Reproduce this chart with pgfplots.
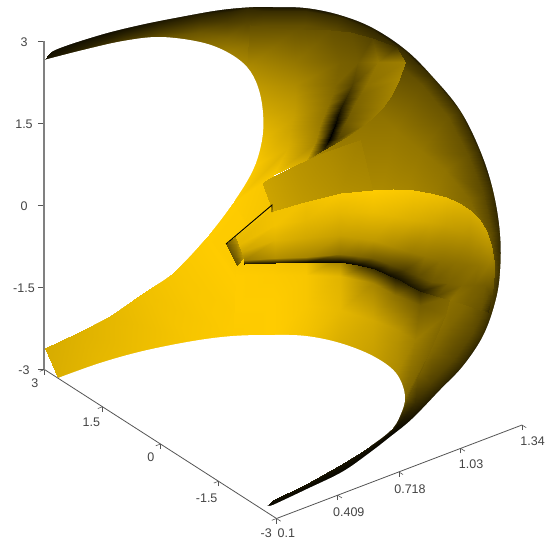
\documentclass[border=0pt]{standalone}
\usepackage{fontspec}
\setmainfont{Liberation Sans}
\usepackage{pgfplots}
\pgfplotsset{compat=1.18}
\definecolor{axisgray}{HTML}{555555}
\definecolor{labelgray}{HTML}{444444}
\pgfplotsset{
  sheet/.style={surf,shader=interp,mesh/cols=#1,point meta=explicit},
  mask/.style={draw=none,fill=white,smooth,tension=0.6,forget plot},
}
\begin{document}
\begin{tikzpicture}[font=\fontsize{12.5}{14}\selectfont]
\path[use as bounding box] (0,0) rectangle (546pt,546pt);

% surface, in picture coordinates
\begin{axis}[
  at={(0pt,0pt)}, anchor=south west,
  width=546pt, height=546pt, scale only axis,
  view={0}{90}, hide axis,
  xmin=0, xmax=546, ymin=0, ymax=546, zmin=-1, zmax=1,
  y dir=reverse,
  colormap={gold}{rgb255(0cm)=(0,0,0); rgb255(1cm)=(255,204,0)},
  point meta min=0, point meta max=1,
]
% back sheet, outer rim to inner side
\addplot3[sheet=5] coordinates {
 (44,60,0)[.08] (44,60,0)[.09] (44,60,0)[.1] (44,60,0)[.1] (44,60,0)[.1]
 (55,47,0)[.04] (55,48,0)[.06] (55,50,0)[.08] (55,54,0)[.1] (55,58,0)[.14]
 (83,37,0)[.03] (83,39,0)[.06] (83,42,0)[.1] (83,47,0)[.15] (83,50,0)[.2]
 (123,26,0)[.03] (123,29,0)[.09] (123,33,0)[.15] (123,37,0)[.22] (123,41,0)[.3]
 (160,18,0)[.03] (160,21,0)[.12] (160,26,0)[.2] (160,32,0)[.3] (160,37,0)[.4]
 (200,11,0)[.03] (200,14,0)[.15] (200,21,0)[.25] (200,32,0)[.42] (200,42,0)[.52]
 (227,7,0)[.03] (227,12,0)[.18] (227,22,0)[.3] (227,38,0)[.5] (227,52,0)[.62]
 (247,4,0)[.03] (247,9,0)[.2] (247,22,0)[.33] (247,45,0)[.55] (247,67,0)[.68]
 (263,4,0)[.03] (263,11,0)[.22] (263,25,0)[.38] (263,60,0)[.62] (263,113,0)[.8]
 (306,5,0)[.03] (306,11,0)[.22] (305,25,0)[.38] (300,70,0)[.55] (290,150,0)[.72]
 (341,12,0)[.02] (339,17,0)[.22] (335,30,0)[.36] (325,70,0)[.5] (310,170,0)[.68]
 (375,25,0)[.02] (372,30,0)[.2] (365,42,0)[.32] (350,90,0)[.5] (330,190,0)[.68]
 (408,47,0)[0] (404,51,0)[.22] (395,62,0)[.36] (375,110,0)[.55] (360,195,0)[.68]
 (436,75,0)[0] (432,78,0)[.24] (422,85,0)[.4] (395,130,0)[.58] (380,195,0)[.68]
 (463,108,0)[0] (459,111,0)[.25] (448,117,0)[.42] (420,150,0)[.58] (405,195,0)[.66]
 (483,149,0)[0] (478,151,0)[.24] (468,155,0)[.4] (445,170,0)[.56] (430,200,0)[.62]
 (496,189,0)[0] (492,190,0)[.22] (483,193,0)[.36] (470,200,0)[.5] (450,210,0)[.6]
 (503,233,0)[.02] (499,233,0)[.22] (492,234,0)[.36] (484,235,0)[.5] (470,240,0)[.55]
 (503,273,0)[.02] (500,273,0)[.22] (494,272,0)[.36] (490,272,0)[.48] (470,272,0)[.55]
 (498,304,0)[0] (495,303,0)[.22] (487,302,0)[.36] (470,298,0)[.5] (450,295,0)[.55]
 (486,337,0)[0] (482,335,0)[.22] (473,332,0)[.36] (450,325,0)[.5] (425,320,0)[.62]
 (466,368,0)[0] (462,365,0)[.2] (453,360,0)[.34] (432,350,0)[.5] (410,340,0)[.62]
 (442,392,0)[0] (438,389,0)[.19] (430,383,0)[.32] (418,372,0)[.48] (405,362,0)[.6]
 (425,409,0)[0] (422,407,0)[.13] (415,403,0)[.22] (408,398,0)[.38] (405,394,0)[.48]
 (412,422,0)[0] (410,420,0)[.08] (406,415,0)[.14] (403,410,0)[.25] (402,408,0)[.35]
 (399,433,0)[.02] (397,431,0)[.04] (395,429,0)[.05] (394,428,0)[.1] (393,428,0)[.18]
 (370,456,0)[.03] (368,454,0)[.04] (367,452,0)[.05] (366,450,0)[.08] (366,449,0)[.1]
 (344,474,0)[.03] (342,472,0)[.04] (341,469,0)[.05] (340,466,0)[.08] (340,465,0)[.1]
 (308,491,0)[.03] (307,489,0)[.04] (306,487,0)[.05] (306,485,0)[.08] (306,484,0)[.1]
 (274,507,0)[.03] (274,505,0)[.04] (273,503,0)[.05] (273,501,0)[.06] (273,500,0)[.08]
 (263,511,0)[.03] (263,510,0)[.03] (263,509,0)[.03] (263,509,0)[.03] (263,509,0)[.03]
};
% left arm and gold middle
\addplot3[sheet=2] coordinates {
 (45,348,0)[.84] (58,378,0)[.86]
 (77,333,0)[.87] (100,363,0)[.9]
 (110,316,0)[.9] (143,351,0)[.93]
 (143,293,0)[.94] (193,341,0)[.97]
 (173,273,0)[.97] (233,336,0)[.99]
 (207,237,0)[1] (273,335,0)[1]
 (233,203,0)[1] (306,336,0)[.95]
 (273,175,0)[.97] (340,343,0)[.85]
};
% bright part under the lower fold
\addplot3[sheet=4] coordinates {
 (237,260,0)[.98] (236,275,0)[1] (235,305,0)[1] (233,336,0)[.99]
 (273,258,0)[.96] (273,275,0)[.99] (273,305,0)[1] (273,335,0)[1]
 (306,257,0)[.92] (306,275,0)[.97] (306,305,0)[.97] (306,336,0)[.95]
 (340,258,0)[.6] (340,276,0)[.88] (340,310,0)[.9] (340,343,0)[.85]
 (373,263,0)[.08] (373,283,0)[.65] (373,320,0)[.82] (373,356,0)[.78]
 (395,272,0)[0] (395,295,0)[.55] (398,330,0)[.72] (396,373,0)[.68]
 (420,285,0)[.1] (420,305,0)[.45] (415,340,0)[.62] (405,396,0)[.5]
 (450,296,0)[.5] (445,315,0)[.52] (430,350,0)[.5] (402,410,0)[.35]
};
% lower lobe above the fold
\addplot3[sheet=5] coordinates {
 (235,237,0)[.92] (238,245,0)[.9] (241,252,0)[.8] (244,260,0)[.6] (244,264,0)[.05]
 (273,207,0)[.95] (275,225,0)[.95] (275,240,0)[.87] (275,258,0)[.7] (275,263,0)[.1]
 (306,199,0)[.95] (306,220,0)[.9] (306,238,0)[.82] (306,257,0)[.65] (306,262,0)[.05]
 (340,193,0)[.98] (340,212,0)[.9] (340,235,0)[.78] (340,254,0)[.55] (340,262,0)[.02]
 (358,191,0)[.99] (358,212,0)[.91] (358,238,0)[.76] (358,256,0)[.5] (358,265,0)[.03]
 (373,190,0)[1] (373,212,0)[.92] (373,240,0)[.75] (373,258,0)[.45] (375,269,0)[.05]
 (393,189,0)[.99] (393,216,0)[.89] (391,246,0)[.68] (389,264,0)[.38] (388,275,0)[.06]
 (413,190,0)[.97] (413,220,0)[.85] (410,252,0)[.6] (404,270,0)[.3] (400,280,0)[.08]
 (430,193,0)[.95] (430,222,0)[.82] (425,256,0)[.58] (418,276,0)[.36] (410,286,0)[.1]
 (446,197,0)[.92] (446,225,0)[.78] (440,260,0)[.55] (432,282,0)[.42] (420,291,0)[.12]
 (459,203,0)[.88] (459,230,0)[.75] (455,262,0)[.55] (448,283,0)[.47] (436,296,0)[.35]
 (470,210,0)[.85] (470,235,0)[.72] (468,265,0)[.55] (462,285,0)[.5] (450,300,0)[.55]
 (479,219,0)[.83] (479,240,0)[.72] (478,265,0)[.57] (474,285,0)[.48] (466,305,0)[.47]
 (486,230,0)[.8] (487,245,0)[.72] (488,265,0)[.6] (485,285,0)[.45] (480,310,0)[.4]
 (491,245,0)[.72] (491,256,0)[.66] (491,275,0)[.52] (489,292,0)[.38] (485,311,0)[.3]
 (494,262,0)[.6] (494,270,0)[.55] (493,285,0)[.42] (491,298,0)[.3] (488,312,0)[.2]
};
% little end face in the middle
\addplot3[sheet=2] coordinates {
 (226,244,0)[.4] (237,265,0)[.4]
 (235,237,0)[.7] (243,258,0)[.7]
};
% band between the two lobes
\addplot3[sheet=2] coordinates {
 (262,182,0)[.8] (273,211,0)[.8]
 (300,163,0)[.72] (300,203,0)[.75]
 (325,152,0)[.68] (340,193,0)[.7]
 (360,140,0)[.62] (372,190,0)[.68]
};
% upper flap with the dark pinch
\addplot3[sheet=6] coordinates {
 (250,25,0)[.38] (295,30,0)[.42] (330,30,0)[.4] (350,32,0)[.38] (372,38,0)[.33] (396,47,0)[.25]
 (247,67,0)[.68] (295,62,0)[.58] (340,62,0)[.47] (358,62,0)[.45] (378,62,0)[.58] (405,62,0)[.62]
 (258,87,0)[.75] (295,85,0)[.68] (335,85,0)[.5] (352,85,0)[.33] (366,85,0)[.55] (399,79,0)[.66]
 (260,100,0)[.79] (295,96,0)[.72] (332,95,0)[.52] (347,95,0)[.24] (360,95,0)[.5] (392,94,0)[.64]
 (263,113,0)[.83] (295,107,0)[.75] (328,105,0)[.55] (342,105,0)[.15] (354,105,0)[.48] (383,107,0)[.62]
 (263,127,0)[.88] (293,118,0)[.78] (324,115,0)[.57] (338,115,0)[.07] (350,114,0)[.45] (374,116,0)[.6]
 (262,140,0)[.92] (290,130,0)[.8] (320,125,0)[.6] (335,125,0)[.02] (345,123,0)[.42] (365,124,0)[.58]
 (255,165,0)[.98] (288,148,0)[.85] (315,143,0)[.65] (329,140,0)[0] (337,139,0)[.3] (346,137,0)[.5]
 (233,203,0)[1] (273,175,0)[.97] (306,160,0)[.82] (323,150,0)[.2] (323,150,0)[.2] (323,150,0)[.2]
};
% thin dark seam at the middle
\addplot3[black,line width=.9pt,forget plot] coordinates {(226,244,0) (272,205,0) (272,212,0)};
% the empty places: upper hole, lower hole, outside the rim
\addplot3[mask] coordinates {
 (44,60,0) (83,50,0) (123,41,0) (160,37,0) (200,42,0) (227,52,0) (247,67,0)
 (258,87,0) (263,113,0) (262,140,0) (253,170,0) (233,203,0) (207,237,0)
 (173,273,0) (143,293,0) (110,316,0) (77,333,0) (45,348,0)
} -- cycle;
\addplot3[mask] coordinates {
 (58,378,0) (100,363,0) (143,351,0) (193,341,0) (233,336,0) (273,335,0)
 (306,336,0) (340,343,0) (373,356,0) (396,373,0) (405,396,0) (400,416,0)
 (390,431,0) (366,449,0) (340,465,0) (306,484,0) (273,500,0) (263,509,0)
} -- cycle;
\addplot3[mask] coordinates {
 (44,60,0) (55,50,0) (100,35,0) (140,25,0) (180,17,0) (220,10,0) (253,7,0)
 (273,7,0) (306,8,0) (340,15,0) (373,28,0) (406,50,0) (433,77,0) (460,110,0)
 (480,150,0) (493,190,0) (500,233,0) (500,273,0) (495,303,0) (483,336,0)
 (463,366,0) (440,390,0) (412,419,0) (390,437,0) (368,454,0) (342,472,0)
 (307,489,0) (273,505,0) (263,509,0) (263,560,0) (600,600,0) (600,-60,0) (44,-60,0)
} -- cycle;
\end{axis}

% x and y axes
\begin{axis}[
  at={(160.5pt,266pt)}, anchor=origin,
  x={(198pt,75.4pt)}, y={(-38.67pt,24.83pt)}, z={(0pt,54.67pt)},
  xmin=0.1, xmax=1.34, ymin=-3, ymax=3, zmin=-3, zmax=3,
  hide z axis, axis x line*=bottom, axis y line*=left,
  xtick={0.1,0.409,0.718,1.03,1.34},
  xticklabels={0.1,0.409,0.718,1.03,1.34},
  ytick={-3,-1.5,0,1.5,3},
  yticklabels={-3,-1.5,0,1.5,3},
  tick align=outside, major tick length=5pt,
  axis line style={axisgray,line width=.8pt,-},
  tick style={axisgray,line width=.6pt},
  tick label style={text=labelgray},
  xticklabel style={yshift=-2pt},
  yticklabel style={xshift=1pt,yshift=-3pt},
]
\addplot3[draw=none,forget plot] coordinates {(0.1,-3,-3) (1.34,3,3)};
\end{axis}

% z axis
\begin{axis}[
  at={(44pt,177pt)}, anchor=south west,
  width=10pt, height=328pt, scale only axis,
  xmin=0, xmax=1, ymin=-3, ymax=3,
  hide x axis, axis y line*=left,
  ytick={-3,-1.5,0,1.5,3},
  yticklabels={-3,-1.5,0,1.5,3},
  tick align=outside, major tick length=6pt,
  axis line style={black!50,line width=1.3pt,-},
  tick style={axisgray,line width=.7pt},
  tick label style={text=labelgray},
  yticklabel style={anchor=center,xshift=-14pt,yshift=-1.5pt},
]
\addplot[draw=none,forget plot] coordinates {(0,-3) (1,3)};
\end{axis}
\end{tikzpicture}
\end{document}
